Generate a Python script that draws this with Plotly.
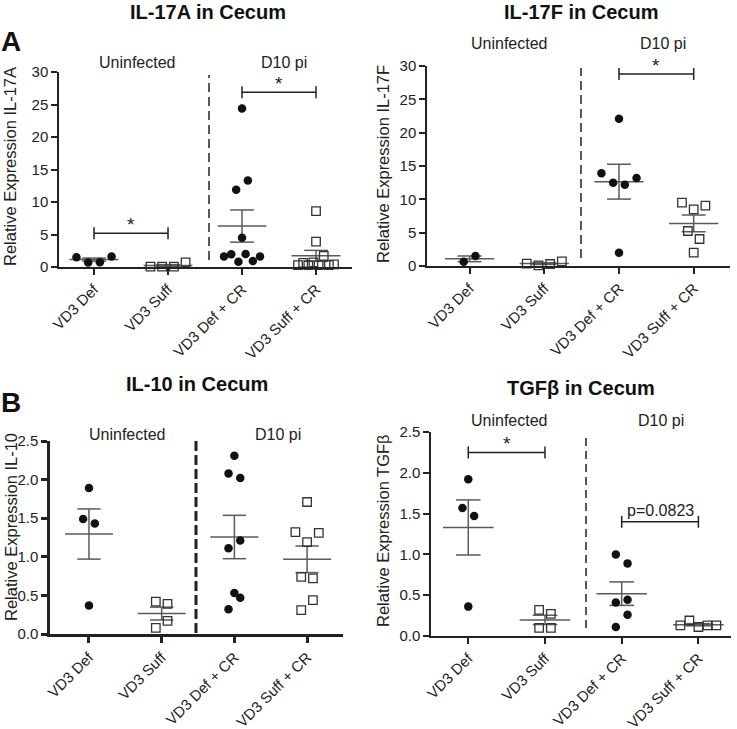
import numpy as np
import plotly.graph_objects as go

W, H = 737, 729
FONT = "Liberation Sans, Arial, Helvetica, sans-serif"

# ---------------- data ----------------
categories = ["VD3 Def", "VD3 Suff", "VD3 Def + CR", "VD3 Suff + CR"]
group_labels = ["Uninfected", "D10 pi"]

il17a_def = [1.5, 0.7, 0.75, 1.6]
il17a_suff = [0.05, 0.05, 0.05, 0.7]
il17a_def_cr = [24.4, 11.9, 13.3, 4.5, 1.6, 1.95, 0.82, 2.0, 0.92, 1.6]
il17a_suff_cr = [8.6, 3.9, 0.3, 0.65, 0.3, 0.7, 0.3, 1.7, 0.3, 0.4]

il17f_def = [0.65, 1.5]
il17f_suff = [0.35, 0.1, 0.3, 0.7]
il17f_def_cr = [22.1, 13.9, 12.5, 12.2, 13.2, 2.0]
il17f_suff_cr = [9.5, 8.5, 9.05, 5.25, 4.05, 2.0]

il10_def = [1.89, 1.49, 1.43, 0.37]
il10_suff = [0.42, 0.39, 0.08, 0.17]
il10_def_cr = [2.31, 2.08, 2.02, 1.11, 1.21, 0.53, 0.32, 0.47]
il10_suff_cr = [1.71, 1.32, 1.19, 1.31, 0.74, 0.72, 0.31, 0.44]

tgfb_def = [1.92, 1.57, 1.47, 0.36]
tgfb_suff = [0.32, 0.27, 0.10, 0.10]
tgfb_def_cr = [1.0, 0.89, 0.41, 0.445, 0.11, 0.26]
tgfb_suff_cr = [0.13, 0.19, 0.11, 0.13, 0.13]

# ---------------- panel layout (pixels) ----------------
panels = [
    dict(title="IL-17A in Cecum", ytitle="Relative Expression IL-17A",
         groups=[il17a_def, il17a_suff, il17a_def_cr, il17a_suff_cr],
         xpx=(59, 352), ypx=(72, 267), xr=(-0.473, 3.486), yr=(0, 30), dtick=5, fmt="d",
         sep=1.554, sep_px=(75, 260), axw=1.5, sepw=1.5, dash="9px,5px",
         title_c=(208, 12), ytitle_c=(10, 167), grp_y=63, grp_x=(137, 284),
         brackets=[(0, 1, 5.2, "*"), (2, 3, 26.9, "*")]),
    dict(title="IL-17F in Cecum", ytitle="Relative Expression IL-17F",
         groups=[il17f_def, il17f_suff, il17f_def_cr, il17f_suff_cr],
         xpx=(427, 730), ypx=(66, 266), xr=(-0.570, 3.486), yr=(0, 30), dtick=5, fmt="d",
         sep=1.491, sep_px=(68, 258), axw=1.5, sepw=1.5, dash="9px,5px",
         title_c=(581, 12), ytitle_c=(383, 164), grp_y=43, grp_x=(510, 663),
         brackets=[(2, 3, 28.8, "*")]),
    dict(title="IL-10 in Cecum", ytitle="Relative Expression IL-10",
         groups=[il10_def, il10_suff, il10_def_cr, il10_suff_cr],
         xpx=(50, 343), ypx=(441, 634), xr=(-0.536, 3.494), yr=(0, 2.5), dtick=0.5, fmt=".1f",
         sep=1.472, sep_px=(440, 633), axw=2.5, sepw=3, dash="10px,4px",
         title_c=(197, 384), ytitle_c=(11, 527), grp_y=435, grp_x=(128, 278),
         brackets=[]),
    dict(title="TGF\u03b2 in Cecum", ytitle="Relative Expression TGF\u03b2",
         groups=[tgfb_def, tgfb_suff, tgfb_def_cr, tgfb_suff_cr],
         xpx=(431, 731), ypx=(432, 636), xr=(-0.486, 3.425), yr=(0, 2.5), dtick=0.5, fmt=".1f",
         sep=1.535, sep_px=(435, 628), axw=1.5, sepw=1.5, dash="8px,5px",
         title_c=(581, 388), ytitle_c=(383, 531), grp_y=420, grp_x=(510, 661),
         brackets=[(0, 1, 2.25, "*"), (2, 3, 1.40, "p=0.0823")]),
]
letters = [("A", 11, 42), ("B", 11, 402)]


def px_x(p):
    return p / W


def px_y(p):
    return 1 - p / H


def swarm_offsets(vals, ppu, cat_px, thr=13.0, sp=11.7, maxw=36.0):
    """Prism-like horizontal spreading of points with close y values."""
    vals = np.asarray(vals, dtype=float)
    order = np.argsort(vals, kind="stable")
    clusters, cur = [], [order[0]]
    for idx in order[1:]:
        if (vals[idx] - vals[cur[0]]) * ppu < thr:
            cur.append(idx)
        else:
            clusters.append(cur)
            cur = [idx]
    clusters.append(cur)
    off = np.zeros(len(vals))
    for cl in clusters:
        cl = sorted(cl)
        n = len(cl)
        if n == 1:
            continue
        s = min(sp, maxw / (n - 1))
        for k, idx in enumerate(cl):
            off[idx] = (k - (n - 1) / 2) * s / cat_px
    return off


fig = go.Figure()
shapes, annotations = [], []
LINEC = "#222222"
MEANC = "#5a5a5a"

for i, p in enumerate(panels):
    n = i + 1
    xa = "x" if n == 1 else f"x{n}"
    ya = "y" if n == 1 else f"y{n}"
    xkey = "xaxis" if n == 1 else f"xaxis{n}"
    ykey = "yaxis" if n == 1 else f"yaxis{n}"
    x0, x1 = p["xpx"]
    yt, yb = p["ypx"]
    cat_px = (x1 - x0) / (p["xr"][1] - p["xr"][0])
    ppu = (yb - yt) / (p["yr"][1] - p["yr"][0])

    fig.update_layout({
        xkey: dict(domain=[px_x(x0), min(1.0, px_x(x1))], range=list(p["xr"]), anchor=ya,
                   automargin=False,
                   tickmode="array", tickvals=[0, 1, 2, 3], ticktext=categories,
                   tickangle=-45, ticks="outside", ticklen=6, tickwidth=p["axw"],
                   tickcolor=LINEC, showline=True, linecolor=LINEC, linewidth=p["axw"],
                   showgrid=False, zeroline=False, fixedrange=True,
                   tickfont=dict(family=FONT, size=15, color="#222")),
        ykey: dict(domain=[px_y(yb), px_y(yt)], range=list(p["yr"]), anchor=xa,
                   automargin=False,
                   dtick=p["dtick"], tick0=0, tickformat=p["fmt"], ticks="outside",
                   ticklen=6, tickwidth=p["axw"], tickcolor=LINEC, showline=True,
                   linecolor=LINEC, linewidth=p["axw"], showgrid=False, zeroline=False,
                   fixedrange=True, tickfont=dict(family=FONT, size=15, color="#222")),
    })

    for g, vals in enumerate(p["groups"]):
        v = np.asarray(vals, dtype=float)
        m = v.mean()
        s = v.std(ddof=1) / np.sqrt(len(v))
        c = g
        # mean and SEM
        fig.add_trace(go.Scatter(
            x=[c - 0.33, c + 0.33, None, c, c, None, c - 0.16, c + 0.16, None, c - 0.16, c + 0.16],
            y=[m, m, None, m - s, m + s, None, m + s, m + s, None, m - s, m - s],
            mode="lines", line=dict(color=MEANC, width=1.5), xaxis=xa, yaxis=ya,
            showlegend=False, hoverinfo="skip", cliponaxis=False))
        off = swarm_offsets(v, ppu, cat_px)
        filled = g in (0, 2)
        fig.add_trace(go.Scatter(
            x=c + off, y=v, mode="markers", xaxis=xa, yaxis=ya, showlegend=False,
            cliponaxis=False,
            marker=dict(symbol="circle" if filled else "square-open",
                        size=8.5,
                        color="#111111" if filled else "#333333",
                        line=dict(width=0 if filled else 1.3, color="#333333"))))

    # dashed separator
    shapes.append(dict(type="line", xref=xa, yref="paper", x0=p["sep"], x1=p["sep"],
                       y0=px_y(p["sep_px"][1]), y1=px_y(p["sep_px"][0]),
                       line=dict(color=LINEC, width=p["sepw"], dash=p["dash"])))

    # significance brackets
    cap = 6.0 / ppu
    for (a, b, yv, txt) in p["brackets"]:
        shapes.append(dict(type="line", xref=xa, yref=ya, x0=a, x1=b, y0=yv, y1=yv,
                           line=dict(color=LINEC, width=1.5)))
        for xx in (a, b):
            shapes.append(dict(type="line", xref=xa, yref=ya, x0=xx, x1=xx,
                               y0=yv - cap, y1=yv + cap, line=dict(color=LINEC, width=1.5)))
        if txt == "*":
            annotations.append(dict(x=(a + b) / 2, y=yv, xref=xa, yref=ya, text="*",
                                    showarrow=False, yanchor="bottom", yshift=-4,
                                    font=dict(family=FONT, size=19, color="#222")))
        else:
            annotations.append(dict(x=(a + b) / 2, y=yv, xref=xa, yref=ya, text=txt,
                                    showarrow=False, yanchor="bottom", yshift=1,
                                    font=dict(family=FONT, size=16, color="#222")))

    # titles and labels
    annotations.append(dict(x=px_x(p["title_c"][0]), y=px_y(p["title_c"][1]), xref="paper",
                            yref="paper", text=f"<b>{p['title']}</b>", showarrow=False,
                            xanchor="center", yanchor="middle",
                            font=dict(family=FONT, size=20, color="#111")))
    annotations.append(dict(x=px_x(p["ytitle_c"][0]), y=px_y(p["ytitle_c"][1]), xref="paper",
                            yref="paper", text=p["ytitle"], textangle=-90, showarrow=False,
                            xanchor="center", yanchor="middle",
                            font=dict(family=FONT, size=16.5, color="#222")))
    for gl, gx in zip(group_labels, p["grp_x"]):
        annotations.append(dict(x=px_x(gx), y=px_y(p["grp_y"]), xref="paper", yref="paper",
                                text=gl, showarrow=False, xanchor="center", yanchor="middle",
                                font=dict(family=FONT, size=16, color="#222")))

for (t, lx, ly) in letters:
    annotations.append(dict(x=px_x(lx), y=px_y(ly), xref="paper", yref="paper",
                            text=f"<b>{t}</b>", showarrow=False, xanchor="center",
                            yanchor="middle", font=dict(family=FONT, size=28, color="#111")))

fig.update_layout(width=W, height=H, margin=dict(l=0, r=0, t=0, b=0, autoexpand=False),
                  paper_bgcolor="white", plot_bgcolor="white",
                  shapes=shapes, annotations=annotations, showlegend=False)

fig.write_html("out.html", config={"displayModeBar": False},
               post_script="document.body.style.margin='0px';document.body.style.padding='0px';")
